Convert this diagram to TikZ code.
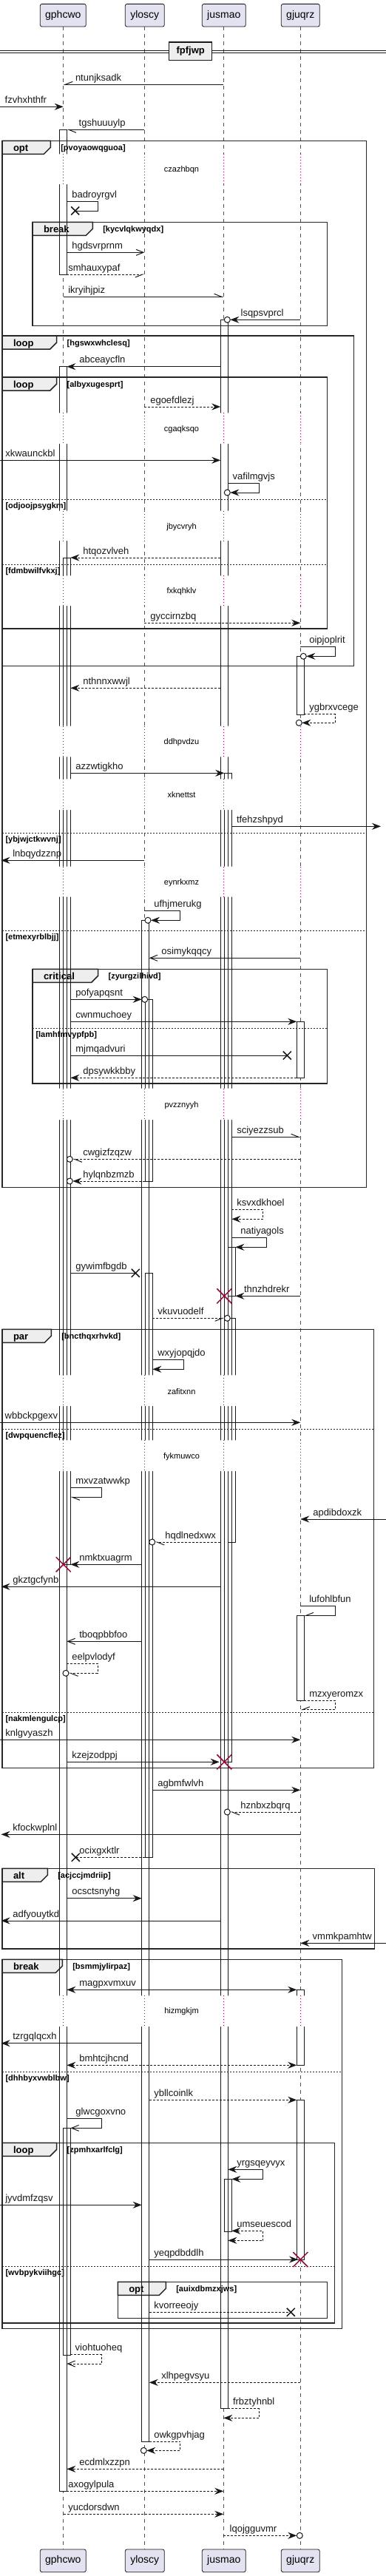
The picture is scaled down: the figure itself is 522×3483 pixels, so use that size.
\documentclass[tikz,border=0pt]{standalone}
\usepackage{fontspec}
\setmainfont{Liberation Sans}
\usetikzlibrary{arrows.meta,shapes.misc}
\definecolor{lc}{HTML}{181818}
\definecolor{partc}{HTML}{E2E2F0}
\definecolor{tabc}{HTML}{EEEEEE}
\definecolor{crim}{HTML}{A80036}
\tikzset{
 every node/.style={inner sep=0pt, outer sep=0pt},
 lbl/.style={anchor=base west, font=\fontsize{13}{15}\selectfont, text=lc},
 kwf/.style={anchor=base west, font=\fontsize{13}{15}\selectfont\bfseries, text=black},
 condf/.style={anchor=base west, font=\fontsize{11}{13}\selectfont\bfseries, text=black},
 dlyf/.style={anchor=center, font=\fontsize{11}{13}\selectfont, text=black},
 msg/.style={draw=lc, line width=1pt},
 dsh/.style={dash pattern=on 3pt off 2pt},
 fa/.style={-{Stealth[length=12pt,width=9pt,inset=4pt]}},
 fab/.style={{Stealth[length=12pt,width=9pt,inset=4pt]}-{Stealth[length=12pt,width=9pt,inset=4pt]}},
 oa/.style={-{Straight Barb[length=10pt,width=8pt]}},
 hu/.style={-{Straight Barb[length=10pt,width=8pt,harpoon]}},
 hs/.style={-{Straight Barb[length=10pt,width=8pt,harpoon,swap]}},
 circ/.style={circle, draw=lc, fill=white, line width=1pt, minimum size=8pt},
 xk/.style={cross out, draw=lc, line width=1.5pt, minimum size=11pt},
 xr/.style={cross out, draw=crim, line width=1.5pt, minimum size=20pt},
 life/.style={draw=lc!75, line width=0.8pt, dash pattern=on 5pt off 5pt},
 dlyl/.style={draw=crim, line width=1pt, dash pattern=on 1pt off 3pt},
 frameb/.style={draw=black!85, line width=1.5pt},
 elsl/.style={draw=black!85, line width=1pt, dash pattern=on 2pt off 2pt},
 part/.style={draw=lc, fill=partc, rounded corners=2.5pt, line width=0.8pt, minimum height=30.7pt, font=\fontsize{14}{16}\selectfont},
 actbox/.style={draw=lc, line width=1pt}
}
\newcommand{\msg}[7]{%
 \coordinate (#1-s) at (#2,#4); \coordinate (#1-e) at (#3,#4);
 \draw[msg,#5] (#1-s) -- (#1-e);
 \node[lbl] (#1-l) at (#7,#4-5) {#6};}
\newcommand{\smsg}[9]{%
 \coordinate (#1-s) at (#2,#4); \coordinate (#1-e) at (#6,#5);
 \draw[msg,#7] (#1-s) -- (#3,#4) -- (#3,#5) -- (#1-e);
 \node[lbl] (#1-l) at (#9,#4-5) {#8};}
\newcommand{\frm}[8]{%
 \draw[frameb] (#2,#3) rectangle (#4,#5);
 \draw[frameb, fill=tabc] (#2,#3) -- (#6,#3) -- (#6,#3+9) -- (#6-9,#3+18) -- (#2,#3+18) -- cycle;
 \node[kwf] (#1-k) at (#2+15,#3+14) {#7};
 \node[condf] (#1-c) at (#6+14,#3+13) {#8};}
\newcommand{\els}[5]{%
 \draw[elsl] (#2,#4) -- (#3,#4);
 \node[condf] (#1) at (#2+4.5,#4+12) {#5};}
\newcommand{\dly}[5]{%
 \fill[white] (77,#2) rectangle (98,#3) (188,#2) rectangle (209,#3) (295,#2) rectangle (321,#3) (398,#2) rectangle (415,#3);
 \draw[dlyl] (85.7,#2) -- (85.7,#3) (195.3,#2) -- (195.3,#3) (302.3,#2) -- (302.3,#3) (406.3,#2) -- (406.3,#3);
 \node[dlyf] (#1) at (245.5,#4) {#5};}
\newcommand{\actlist}[1]{%
 \path[#1] (80.3,175.3) rectangle (90.3,371)
  (80.3,495.7) rectangle (90.3,3368.3)
  (85.3,754) rectangle (95.3,2115.3)
  (85.3,2877.3) rectangle (95.3,3184.3)
  (298.3,432.3) rectangle (308.3,3256.7)
  (303.3,1045.3) rectangle (313.3,2382.3)
  (308.3,1686.3) rectangle (318.3,1752.3)
  (308.3,1782.3) rectangle (318.3,2085)
  (303.3,2946.3) rectangle (313.3,3017.3)
  (191.7,1244.3) rectangle (201.7,3301)
  (196.3,1351.3) rectangle (206.3,1597)
  (196.3,1721.3) rectangle (206.3,2511.3)
  (401.3,887.3) rectangle (411.3,966.3)
  (401.3,1381.3) rectangle (411.3,1457.3)
  (401.3,2184.3) rectangle (411.3,2299)
  (401.3,2690.3) rectangle (411.3,2792.3)
  (401.3,2839.3) rectangle (411.3,3055);}
\begin{document}
\begin{tikzpicture}[x=1pt,y=-1pt]
\useasboundingbox[fill=white] (0,0) rectangle (522,3483);
% lifelines
\coordinate (l1t) at (85.7,36); \coordinate (l1b) at (85.7,3446.7);
\coordinate (l2t) at (195.3,36); \coordinate (l2b) at (195.3,3446.7);
\coordinate (l3t) at (302.3,36); \coordinate (l3b) at (302.3,3446.7);
\coordinate (l4t) at (406.3,36); \coordinate (l4b) at (406.3,3446.7);
\draw[life] (l1t) -- (l1b); \draw[life] (l2t) -- (l2b);
\draw[life] (l3t) -- (l3b); \draw[life] (l4t) -- (l4b);
% activation fills
\actlist{fill=white}
% frames
\frm{f1}{3}{190.3}{495.7}{1605.3}{68.3}{opt}{[pvoyaowqguoa]}
\els{f1e1}{3}{495.7}{1126.3}{[ybjwjctkwvnj]}
\els{f1e2}{3}{495.7}{1258.3}{[etmexyrblbjj]}
\frm{f2}{44}{300.3}{442.7}{440.3}{125.3}{break}{[kycvlqkwyqdx]}
\frm{f3}{3}{454}{478.7}{900.7}{76.7}{loop}{[hgswxwhclesq]}
\frm{f4}{3}{510}{442.7}{850}{76.7}{loop}{[albyxugesprt]}
\els{f4e1}{3}{442.7}{675.3}{[odjoojpsygkm]}
\els{f4e2}{3}{442.7}{763.3}{[fdmbwilfvkxj]}
\frm{f5}{44}{1310.3}{442.7}{1465}{132.7}{critical}{[zyurgzilhivd]}
\els{f5e1}{44}{442.7}{1390}{[lamhfmvypfpb]}
\frm{f6}{3}{1797.3}{505.7}{2390.3}{69.3}{par}{[bncthqxrhvkd]}
\els{f6e1}{3}{505.7}{1932.3}{[dwpquencflez]}
\els{f6e2}{3}{505.7}{2315.3}{[nakmlengulcp]}
\frm{f7}{3}{2526.3}{506.7}{2635}{64.3}{alt}{[acjccjmdriip]}
\frm{f8}{3}{2649.3}{462.7}{3148.3}{84.3}{break}{[bsmmjylirpaz]}
\els{f8e1}{3}{462.7}{2801.3}{[dhhbyxvwblbw]}
\frm{f9}{3}{2897.3}{452.7}{3141}{76.7}{loop}{[zpmhxarlfclg]}
\els{f9e1}{3}{452.7}{3064.3}{[wvbpykviihgc]}
\frm{f10}{159.3}{3085.3}{442.7}{3134.3}{224.3}{opt}{[auixdbmzxjws]}
% activation outlines
\actlist{actbox}
% delays
\dly{d1}{208.3}{249}{230}{czazhbqn}
\dly{d2}{558.3}{600}{581}{cgaqksqo}
\dly{d3}{690.7}{731}{712.3}{jbycvryh}
\dly{d4}{778.3}{819}{800}{fxkqhklv}
\dly{d5}{981.7}{1023.3}{1003.3}{ddhpvdzu}
\dly{d6}{1053.3}{1095}{1075}{xknettst}
\dly{d7}{1171.7}{1212.7}{1193.3}{eynrkxmz}
\dly{d8}{1471.7}{1514}{1494.3}{pvzznyyh}
\dly{d9}{1859.3}{1901}{1881.3}{zafitxnn}
\dly{d10}{1947.3}{1989}{1969.3}{fykmuwco}
\dly{d11}{2698.3}{2740}{2720}{hizmgkjm}
% messages
\msg{m1}{302.3}{85.7}{114.3}{hs}{ntunjksadk}{102}
\msg{m2}{0}{85.7}{144.3}{fa}{fzvhxhthfr}{6.7}
\msg{m3}{195.3}{90.3}{175.3}{hu}{tgshuuuylp}{106.7}
\smsg{m4}{90.3}{132.3}{272.3}{285}{101.7}{}{badroyrgvl}{97.3}
\node[xk] (m4-x) at (101.7,285) {};
\msg{m5}{90.3}{195.3}{341.3}{oa}{hgdsvrprnm}{97.3}
\msg{m6}{90.3}{195.3}{371}{dsh,hs}{smhauxypaf}{92.3}
\msg{m7}{85.7}{302.3}{401.3}{hu}{ikryihjpiz}{92.3}
\msg{m8}{406.3}{311.3}{432.3}{fa}{lsqpsvprcl}{325.7}
\node[circ] (m8-c) at (307.3,432.3) {};
\msg{m9}{298.3}{90.3}{495.7}{fa}{abceaycfln}{107.3}
\msg{m10}{195.3}{298.3}{550}{dsh,fa}{egoefdlezj}{203.3}
\msg{m11}{0}{298.3}{622.3}{fa}{xkwaunckbl}{7.3}
\smsg{m12}{308.3}{350.3}{653.3}{666}{311.3}{fa}{vafilmgvjs}{314.7}
\node[circ] (m12-c) at (307.3,666) {};
\msg{m13}{298.3}{95.3}{754}{dsh,fa}{htqozvlveh}{112.3}
\msg{m14}{195.3}{406.3}{842.3}{dsh,fa}{gyccirnzbq}{203.3}
\smsg{m15}{406.3}{453.3}{874}{887.3}{414.3}{fa}{oipjoplrit}{418.3}
\node[circ] (m15-c) at (410.3,887.3) {};
\msg{m16}{298.3}{95.3}{930.3}{dsh,fa}{nthnnxwwjl}{112.3}
\smsg{m17}{411.3}{453.3}{965.7}{977.3}{408.3}{dsh,fa}{ygbrxvcege}{418.3}
\node[circ] (m17-c) at (404.3,977.3) {};
\msg{m18}{95.3}{303.3}{1045.3}{fa}{azzwtigkho}{102.3}
\msg{m19}{313.3}{515}{1117.3}{fa}{tfehzshpyd}{320}
\msg{m20}{195.3}{1.5}{1163.3}{fa}{lnbqydzznp}{17.3}
\smsg{m21}{195.3}{243.7}{1231.3}{1244.3}{204}{fa}{ufhjmerukg}{208.3}
\node[circ] (m21-c) at (200,1244.3) {};
\msg{m22}{406.3}{201.7}{1295.3}{oa}{osimykqqcy}{218.3}
\msg{m23}{95.3}{191.7}{1351.3}{fa}{pofyapqsnt}{102.3}
\node[circ] (m23-c) at (195.7,1351.3) {};
\msg{m24}{95.3}{401.3}{1381.3}{fa}{cwnmuchoey}{102.3}
\msg{m25}{95.3}{388.3}{1427}{}{mjmqadvuri}{102.3}
\node[xk] (m25-x) at (388.3,1427) {};
\msg{m26}{401.3}{95.3}{1457.3}{dsh,fa}{dpsywkkbby}{112.3}
\msg{m27}{313.3}{406.3}{1537.3}{hu}{sciyezzsub}{320.3}
\msg{m28}{406.3}{98.3}{1567.3}{dsh,hu}{cwgizfzqzw}{112.3}
\node[circ] (m28-c) at (94.3,1567.3) {};
\msg{m29}{196.3}{98.3}{1597}{dsh,fa}{hylqnbzmzb}{112.3}
\node[circ] (m29-c) at (94.3,1597) {};
\smsg{m30}{313.3}{355.7}{1635.3}{1648.3}{313.3}{dsh,fa}{ksvxdkhoel}{320.3}
\smsg{m31}{313.3}{360.3}{1673.3}{1686.3}{318.3}{fa}{natiyagols}{325.3}
\msg{m32}{95.3}{183.3}{1721.3}{}{gywimfbgdb}{102.3}
\node[xk] (m32-x) at (183.3,1721.3) {};
\msg{m33}{406.3}{318.3}{1752.3}{fa}{thnzhdrekr}{330}
\node[xr] (m33-x) at (303.3,1752.3) {};
\msg{m34}{206.3}{303.3}{1782.3}{dsh,hs}{vkuvuodelf}{213.3}
\node[circ] (m34-c) at (307.3,1782.3) {};
\smsg{m35}{206.3}{248.3}{1838.3}{1851.3}{206.3}{fa}{wxyjopqjdo}{213.3}
\msg{m36}{0}{406.3}{1923.3}{fa}{wbbckpgexv}{6.7}
\smsg{m37}{95.3}{137.3}{2011.7}{2024.3}{95.3}{hu}{mxvzatwwkp}{102.3}
\msg{m38}{522}{406.3}{2054}{fa}{apdibdoxzk}{423.3}
\msg{m39}{298.3}{209.7}{2085}{dsh,hu}{hqdlnedxwx}{223.3}
\node[circ] (m39-c) at (205.7,2085) {};
\msg{m40}{191.7}{95.3}{2115.3}{fa}{nmktxuagrm}{107.3}
\node[xr] (m40-x) at (85.7,2115.3) {};
\msg{m41}{298.3}{1.5}{2145.3}{fa}{gkztgcfynb}{17.3}
\smsg{m42}{406.3}{453.3}{2171.7}{2184.3}{411.3}{hs}{lufohlbfun}{418.3}
\msg{m43}{191.7}{90.3}{2219.3}{oa}{tboqpbbfoo}{107.3}
\smsg{m44}{90.3}{132.3}{2249.3}{2262.3}{93}{dsh,hu}{eelpvlodyf}{97.3}
\node[circ] (m44-c) at (89,2262.3) {};
\smsg{m45}{411.3}{453.3}{2299}{2311.7}{406.3}{dsh,hs}{mzxyeromzx}{418.3}
\msg{m46}{0}{406.3}{2352.3}{fa}{knlgvyaszh}{7.3}
\msg{m47}{90.3}{296.7}{2382.3}{fa}{kzejzodppj}{97.3}
\node[xr] (m47-x) at (303.3,2382.3) {};
\msg{m48}{206.3}{406.3}{2420.3}{fa}{agbmfwlvh}{213.3}
\msg{m49}{406.3}{311.3}{2450}{dsh,hu}{hznbxzbqrq}{325.3}
\node[circ] (m49-c) at (307.3,2450) {};
\msg{m50}{406.3}{1.5}{2480.3}{fa}{kfockwplnl}{17.3}
\msg{m51}{196.3}{102.3}{2511.3}{dsh}{ocixgxktlr}{107.3}
\node[xk] (m51-x) at (102.3,2511.3) {};
\msg{m52}{90.3}{191.7}{2566.7}{fa}{ocsctsnyhg}{97.3}
\msg{m53}{298.3}{1.5}{2597}{fa}{adfyouytkd}{17.3}
\msg{m54}{522}{406.3}{2627.3}{fa}{vmmkpamhtw}{422.7}
\msg{m55}{90.3}{401.3}{2690.3}{fab}{magpxvmxuv}{107.3}
\msg{m56}{191.7}{1.5}{2762.7}{fa}{tzrgqlqcxh}{17.3}
\msg{m57}{90.3}{401.3}{2792.3}{dsh,fab}{bmhtcjhcnd}{107.3}
\msg{m58}{201.7}{401.3}{2839.3}{dsh,fa}{ybllcoinlk}{208.3}
\smsg{m59}{90.3}{137.3}{2864.3}{2877.3}{95.3}{oa}{glwcgoxvno}{102.3}
\smsg{m60}{308.3}{355.3}{2933.3}{2946.3}{313.3}{fab}{yrgsqeyvyx}{320.3}
\msg{m61}{0}{191.7}{2981.3}{fa}{jyvdmfzqsv}{7.3}
\smsg{m62}{313.3}{355.7}{3016.3}{3029.3}{308.3}{dsh,fab}{umseuescod}{320.3}
\msg{m63}{201.7}{403}{3055}{fa}{yeqpdbddlh}{208.3}
\node[xr] (m63-x) at (406.3,3055) {};
\msg{m64}{201.7}{393.3}{3126.3}{dsh}{kvorreeojy}{208.3}
\node[xk] (m64-x) at (393.3,3126.3) {};
\smsg{m65}{95.3}{137.3}{3183.7}{3196}{90.3}{dsh,oa}{viohtuoheq}{101.7}
\msg{m66}{406.3}{201.7}{3221.3}{dsh,fa}{xlhpegvsyu}{218.3}
\smsg{m67}{308.3}{350.3}{3256.7}{3269.3}{302.3}{dsh,fa}{frbztyhnbl}{315}
\smsg{m68}{201.7}{243.7}{3301}{3313.3}{198.3}{dsh,fa}{owkgpvhjag}{208.3}
\node[circ] (m68-c) at (194.3,3313.3) {};
\msg{m69}{302.3}{90.3}{3338.3}{dsh,fa}{ecdmlxzzpn}{107.3}
\msg{m70}{90.3}{302.3}{3368.3}{dsh,fa}{axogylpula}{92.3}
\msg{m71}{85.7}{302.3}{3399.3}{dsh,fa}{yucdorsdwn}{92.3}
\msg{m72}{302.3}{401.3}{3428.3}{dsh,fa}{lqojgguvmr}{310.7}
\node[circ] (m72-c) at (405.3,3428.3) {};
% title
\coordinate (tA) at (0,68.3); \coordinate (tB) at (522,68.3);
\coordinate (tC) at (0,71.3); \coordinate (tD) at (522,71.3);
\draw[lc, line width=1pt] (tA) -- (tB) (tC) -- (tD);
\node[draw=lc, line width=1.5pt, fill=tabc, minimum width=58pt, minimum height=24.7pt, font=\fontsize{13}{15}\selectfont\bfseries] (title) at (257.7,69.3) {fpfjwp};
% participants
\node[part, minimum width=62pt] (p1t) at (85.3,20.7) {gphcwo};
\node[part, minimum width=53pt] (p2t) at (195.8,20.7) {yloscy};
\node[part, minimum width=59pt] (p3t) at (302.8,20.7) {jusmao};
\node[part, minimum width=52pt] (p4t) at (406.3,20.7) {gjuqrz};
\node[part, minimum width=62pt] (p1b) at (85.3,3462.3) {gphcwo};
\node[part, minimum width=53pt] (p2b) at (195.8,3462.3) {yloscy};
\node[part, minimum width=59pt] (p3b) at (302.8,3462.3) {jusmao};
\node[part, minimum width=52pt] (p4b) at (406.3,3462.3) {gjuqrz};
\end{tikzpicture}
\end{document}
